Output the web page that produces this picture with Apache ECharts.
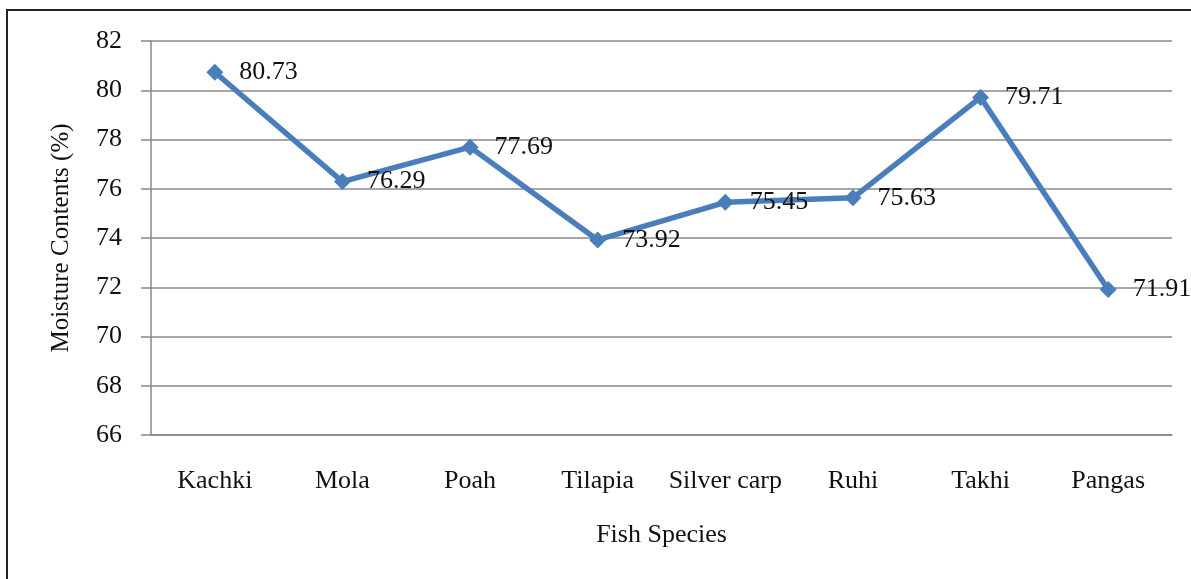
<!DOCTYPE html>
<html>
<head>
<meta charset="utf-8">
<script src="https://cdn.jsdelivr.net/npm/echarts@6/dist/echarts.min.js"></script>
<style>
html, body { margin: 0; padding: 0; background: #fff; }
#chart { width: 1191px; height: 579px; }
</style>
</head>
<body>
<div id="chart"></div>
<script>
var species = ['Kachki', 'Mola', 'Poah', 'Tilapia', 'Silver carp', 'Ruhi', 'Takhi', 'Pangas'];
var moisture = [80.73, 76.29, 77.69, 73.92, 75.45, 75.63, 79.71, 71.91];

var font = 'Liberation Serif';
var chart = echarts.init(document.getElementById('chart'));
chart.setOption({
	animation: false,
	graphic: [{
		type: 'rect',
		shape: { x: 7, y: 10, width: 1200, height: 600 },
		style: { fill: 'none', stroke: '#222', lineWidth: 2 }
	}],
	grid: { left: 151, right: 19, top: 41, bottom: 144 },
	xAxis: {
		type: 'category',
		data: species,
		boundaryGap: true,
		name: 'Fish Species',
		nameLocation: 'middle',
		nameGap: 87,
		nameTextStyle: { fontFamily: font, fontSize: 26, color: '#111' },
		axisLine: { lineStyle: { color: '#888', width: 1.5 } },
		axisTick: { show: false },
		axisLabel: { interval: 0, fontFamily: font, fontSize: 26, color: '#111', margin: 33 }
	},
	yAxis: {
		type: 'value',
		min: 66,
		max: 82,
		interval: 2,
		name: 'Moisture Contents (%)',
		nameLocation: 'middle',
		nameGap: 77,
		nameTextStyle: { fontFamily: font, fontSize: 25, color: '#111' },
		axisLine: { show: true, lineStyle: { color: '#888', width: 1.5 } },
		axisTick: { show: true, length: 10, lineStyle: { color: '#888', width: 1.5 } },
		axisLabel: { fontFamily: font, fontSize: 26, color: '#111', margin: 29 },
		splitLine: { lineStyle: { color: '#888', width: 1.5 } }
	},
	series: [{
		type: 'line',
		data: moisture,
		symbol: 'diamond',
		symbolSize: 17,
		lineStyle: { color: '#4a7ebb', width: 5.5 },
		itemStyle: { color: '#4a7ebb' },
		label: {
			show: true,
			position: 'right',
			distance: 16,
			fontFamily: font,
			fontSize: 26,
			color: '#111'
		}
	}]
});
</script>
</body>
</html>
